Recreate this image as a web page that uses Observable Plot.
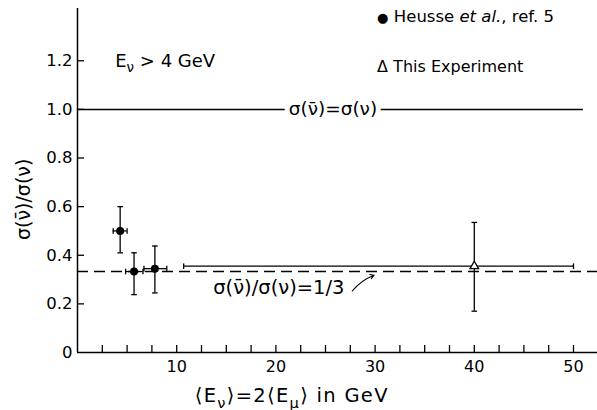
<!DOCTYPE html>
<html><head><meta charset="utf-8">
<script src="https://cdn.jsdelivr.net/npm/d3@7"></script>
<script src="https://cdn.jsdelivr.net/npm/@observablehq/plot@0.6"></script>
<style>body{margin:0;background:#fff}</style>
</head><body><div id="chart"></div>
<script>
// ---- data ----
const heusseE      = [4.3, 5.7, 7.8];
const heusseELo    = [3.6, 4.85, 6.7];
const heusseEHi    = [5.0, 6.6, 9.0];
const heusseRatio  = [0.50, 0.333, 0.345];
const heusseRatioLo= [0.41, 0.238, 0.245];
const heusseRatioHi= [0.60, 0.41, 0.438];

const expE       = [40];
const expELo     = [10.7];
const expEHi     = [50];
const expRatio   = [0.355];
const expRatioLo = [0.17];
const expRatioHi = [0.535];

const ratioEqual = [1];
const ratioThird = [1/3];

const xMinorTicks = [2.5, 5, 7.5, 10, 12.5, 15, 17.5, 20, 22.5, 25, 27.5, 30, 32.5, 35, 37.5, 40, 42.5, 45, 47.5, 50];
const xTickLabels = [10, 20, 30, 40, 50];
const yTickLabels = [0, 0.2, 0.4, 0.6, 0.8, 1.0, 1.2];

const nubar = "\u03BD\u0304";
const cutLabel = "E_{ν} > 4 GeV";
const heusseLabel = "#{●} Heusse *et al.*, ref. 5";
const expLabel = "Δ This Experiment";
const equalLabel = "σ(" + nubar + ")=σ(ν)";
const thirdLabel = "σ(" + nubar + ")/σ(ν)=1/3";
const yLabel = "σ(" + nubar + ")/σ(ν)";
const xLabel = "⟨E_{ν}⟩=2⟨E_{μ}⟩ in GeV";

// ---- tables ----
const heusse = heusseE.map((e, i) => ({e, elo: heusseELo[i], ehi: heusseEHi[i], r: heusseRatio[i], rlo: heusseRatioLo[i], rhi: heusseRatioHi[i]}));
const exp = expE.map((e, i) => ({e, elo: expELo[i], ehi: expEHi[i], r: expRatio[i], rlo: expRatioLo[i], rhi: expRatioHi[i]}));

const hcap = {draw(ctx, size) { const r = Math.sqrt(size / Math.PI); ctx.moveTo(-r, 0); ctx.lineTo(r, 0); }};
const vcap = {draw(ctx, size) { const r = Math.sqrt(size / Math.PI); ctx.moveTo(0, -r); ctx.lineTo(0, r); }};

const W = 597, H = 410, mL = 77, mR = 0, mT = 8, mB = 58;
const fw = W - mL - mR, fh = H - mT - mB;
const sw = 1.3;

function errorMarks(data) {
  return [
    Plot.ruleX(data, {x: "e", y1: "rlo", y2: "rhi", strokeWidth: sw}),
    Plot.ruleY(data, {y: "r", x1: "elo", x2: "ehi", strokeWidth: sw}),
    Plot.dot(data, {x: "e", y: "rlo", symbol: hcap, r: 2.8, fill: "none", stroke: "black", strokeWidth: sw}),
    Plot.dot(data, {x: "e", y: "rhi", symbol: hcap, r: 2.8, fill: "none", stroke: "black", strokeWidth: sw}),
    Plot.dot(data, {x: "elo", y: "r", symbol: vcap, r: 2.8, fill: "none", stroke: "black", strokeWidth: sw}),
    Plot.dot(data, {x: "ehi", y: "r", symbol: vcap, r: 2.8, fill: "none", stroke: "black", strokeWidth: sw})
  ];
}

const chart = Plot.plot({
  width: W, height: H,
  marginLeft: mL, marginRight: mR, marginTop: mT, marginBottom: mB,
  style: {fontFamily: "'DejaVu Sans', sans-serif", fontSize: "16px", background: "white", color: "black"},
  x: {domain: [0, 52.42]},
  y: {domain: [0, 1.415]},
  marks: [
    Plot.ruleY(ratioThird, {strokeDasharray: "11,6", strokeWidth: 1.5}),
    Plot.ruleY(ratioEqual, {x1: 0, x2: 51, strokeWidth: 1.5}),
    Plot.text([equalLabel], {x: 25.75, y: ratioEqual[0], fontSize: 18.5, fill: "black", stroke: "white", strokeWidth: 10, paintOrder: "stroke"}),
    ...errorMarks(heusse),
    ...errorMarks(exp),
    Plot.dot(heusse, {x: "e", y: "r", r: 4, fill: "black", stroke: "none"}),
    Plot.dot(exp, {x: "e", y: "r", symbol: "triangle", r: 3.2, fill: "white", stroke: "black", strokeWidth: sw}),
    // axes
    Plot.ruleX([0], {strokeWidth: 1.5}),
    Plot.ruleY([0], {strokeWidth: 1.5}),
    Plot.tickX(xMinorTicks, {x: d => d, insetTop: fh - 7, strokeWidth: sw}),
    Plot.tickY(yTickLabels.filter(d => d > 0), {y: d => d, insetRight: fw - 7, strokeWidth: sw}),
    Plot.axisX(xTickLabels, {tickSize: 0, tickPadding: 8, fontSize: 16, label: null}),
    Plot.axisY(yTickLabels, {tickSize: 0, tickPadding: 5, fontSize: 16.5, label: null, tickFormat: d => d === 0 ? "0" : d.toFixed(1)}),
    // annotations
    Plot.text([cutLabel], {x: 3.8, y: 1.2, textAnchor: "start", fontSize: 18}),
    Plot.text([heusseLabel], {x: 30.2, y: 1.383, textAnchor: "start", fontSize: 16.5}),
    Plot.text([expLabel], {x: 30.2, y: 1.173, textAnchor: "start", fontSize: 16}),
    Plot.text([thirdLabel], {x: 20.3, y: 0.267, fontSize: 19.5}),
    Plot.arrow([0], {x1: 27.7, y1: 0.253, x2: 29.9, y2: 0.318, bend: 15, headLength: 6, strokeWidth: 1.1}),
    Plot.text([yLabel], {x: 0, y: 0.63, dx: -54, rotate: -90, fontSize: 19}),
    Plot.text([xLabel], {x: 21.6, y: 0, dy: 43, fontSize: 19.5})
  ]
});
document.getElementById("chart").appendChild(chart);

// rich text: _{sub}, *italic*, #{bigger symbol}
const NS = "http://www.w3.org/2000/svg";
d3.select(chart).selectAll("text").each(function() {
  const el = this;
  const s = el.textContent;
  if (s === xLabel) el.setAttribute("letter-spacing", "1.3px");
  if (!/_\{|\*|#\{/.test(s)) return;
  const fs = parseFloat(getComputedStyle(el).fontSize) || 16;
  el.textContent = "";
  const re = /_\{([^}]*)\}|\*([^*]*)\*|#\{([^}]*)\}|([^_*#]+)/g;
  let m, shifted = false;
  while ((m = re.exec(s))) {
    const t = document.createElementNS(NS, "tspan");
    if (m[1] !== undefined) {
      t.textContent = m[1];
      t.setAttribute("font-size", (fs * 0.75) + "px");
      t.setAttribute("dy", (fs * 0.3) + "px");
      shifted = true;
    } else {
      if (m[2] !== undefined) { t.textContent = m[2]; t.setAttribute("font-style", "italic"); }
      else if (m[3] !== undefined) { t.textContent = m[3]; t.setAttribute("font-size", (fs * 0.8) + "px"); }
      else t.textContent = m[4];
      if (shifted) { t.setAttribute("dy", (-fs * 0.3) + "px"); shifted = false; }
    }
    el.appendChild(t);
  }
});
</script>
</body></html>
